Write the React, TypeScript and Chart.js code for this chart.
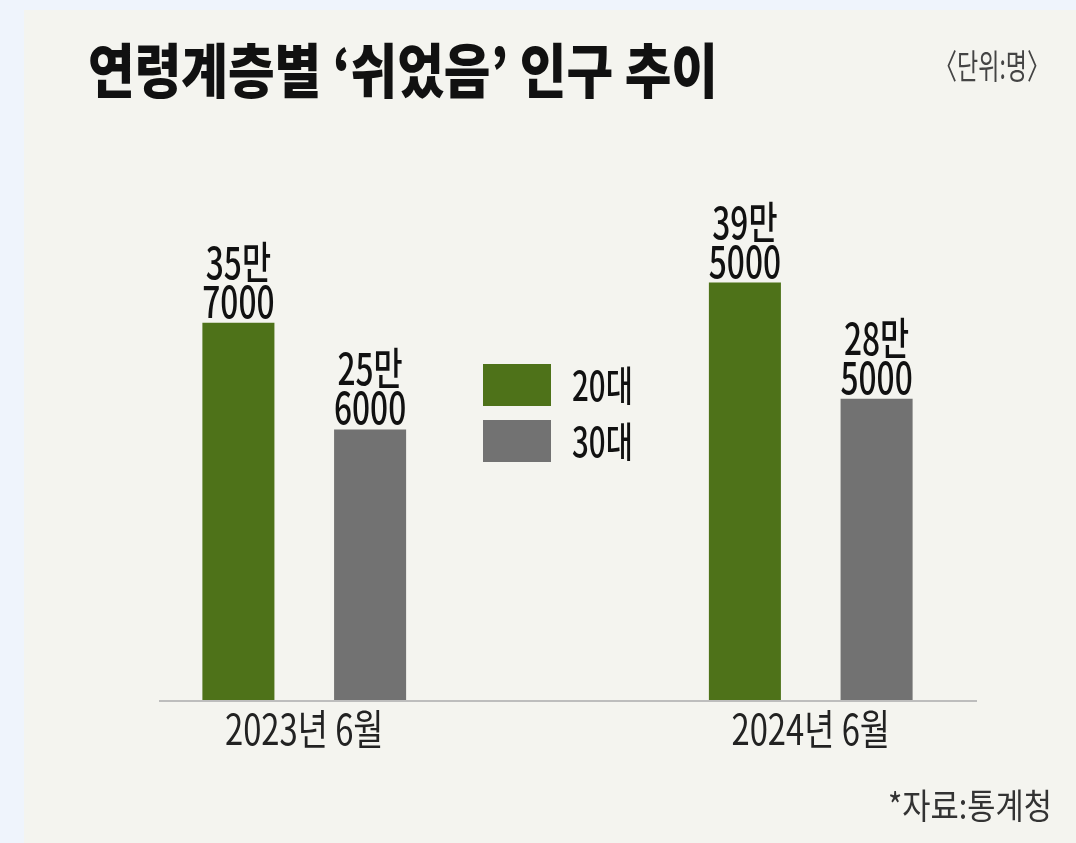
import React, { useEffect, useRef } from "react";
import { Chart, registerables } from "chart.js";

Chart.register(...registerables);

const titleText = "연령계층별 ‘쉬었음’ 인구 추이";
const unitText = "〈단위:명〉";
const sourceText = "*자료:통계청";
const categories = ["2023년 6월", "2024년 6월"];
const seriesLabels = ["20대", "30대"];
const values20s = [357000, 395000];
const values30s = [256000, 285000];
const seriesColors = ["#4e7219", "#727272"];

const FONT = "'Noto Sans CJK KR', 'Noto Sans', sans-serif";

function drawText(
  ctx: CanvasRenderingContext2D,
  text: string,
  x: number,
  y: number,
  opts: { size: number; weight?: string; color: string; sx?: number; fitWidth?: number; align?: CanvasTextAlign; baseline?: CanvasTextBaseline }
) {
  ctx.save();
  ctx.font = `${opts.weight || "normal"} ${opts.size}px ${FONT}`;
  ctx.fillStyle = opts.color;
  ctx.textAlign = opts.align || "left";
  ctx.textBaseline = opts.baseline || "alphabetic";
  let sx = opts.sx || 1;
  if (opts.fitWidth) {
    const w = ctx.measureText(text).width;
    sx = opts.fitWidth / w;
  }
  ctx.translate(x, y);
  ctx.scale(sx, 1);
  ctx.fillText(text, 0, 0);
  ctx.restore();
}

function splitMan(v: number): [string, string] {
  const man = Math.floor(v / 10000);
  const rest = v % 10000;
  return [`${man}만`, `${rest}`];
}

const decorPlugin = {
  id: "decor",
  beforeDatasetsDraw(chart: any) {
    const ctx = chart.ctx as CanvasRenderingContext2D;
    const y0 = chart.scales.y.getPixelForValue(0);
    ctx.save();
    ctx.strokeStyle = "#bdbdbd";
    ctx.lineWidth = 2;
    ctx.beginPath();
    ctx.moveTo(159, y0 + 1);
    ctx.lineTo(977, y0 + 1);
    ctx.stroke();
    ctx.restore();
  },
  afterDatasetsDraw(chart: any) {
    const ctx = chart.ctx as CanvasRenderingContext2D;
    // title, unit, source
    drawText(ctx, titleText, 88, 71, { size: 59, weight: "900", color: "#111", fitWidth: 630, baseline: "middle" });
    drawText(ctx, unitText, 1050, 66, { size: 34, color: "#444", fitWidth: 116, align: "right", baseline: "middle" });
    drawText(ctx, sourceText, 1052, 806, { size: 35, color: "#333", fitWidth: 164, align: "right", baseline: "middle" });

    // value labels
    chart.data.datasets.forEach((ds: any, di: number) => {
      const meta = chart.getDatasetMeta(di);
      meta.data.forEach((bar: any, i: number) => {
        const [l1, l2] = splitMan(ds.data[i]);
        drawText(ctx, l1, bar.x, bar.y - 44, { size: 44, weight: "500", color: "#111", sx: 0.72, align: "center" });
        drawText(ctx, l2, bar.x, bar.y - 5, { size: 44, weight: "500", color: "#111", sx: 0.72, align: "center" });
      });
    });

    // category labels
    const xs = chart.scales.x;
    const y0 = chart.scales.y.getPixelForValue(0);
    chart.data.labels.forEach((lab: string, i: number) => {
      drawText(ctx, lab, xs.getPixelForValue(i), y0 + 45, { size: 42, color: "#222", sx: 0.78, align: "center" });
    });

    // legend
    chart.data.datasets.forEach((ds: any, di: number) => {
      const top = 364 + di * 56;
      ctx.save();
      ctx.fillStyle = ds.backgroundColor;
      ctx.fillRect(483, top, 68, 42);
      ctx.restore();
      drawText(ctx, ds.label, 572, top + 21, { size: 41, weight: "500", color: "#111", sx: 0.72, baseline: "middle" });
    });
  },
};

export default function App() {
  const ref = useRef<HTMLCanvasElement | null>(null);
  useEffect(() => {
    if (!ref.current) return;
    const chart = new Chart(ref.current, {
      type: "bar",
      data: {
        labels: categories,
        datasets: [
          { label: seriesLabels[0], data: values20s, backgroundColor: seriesColors[0] },
          { label: seriesLabels[1], data: values30s, backgroundColor: seriesColors[1] },
        ],
      },
      options: {
        responsive: false,
        animation: false,
        layout: { padding: { top: 66, left: 51, right: 12, bottom: 143 } },
        datasets: { bar: { categoryPercentage: 0.52, barPercentage: 0.547 } },
        plugins: { legend: { display: false }, tooltip: { enabled: false }, title: { display: false } },
        scales: {
          x: { display: false, offset: true },
          y: { display: false, min: 0, max: 600000 },
        },
      },
      plugins: [decorPlugin],
    });
    return () => chart.destroy();
  }, []);
  return (
    <div style={{ position: "absolute", left: 0, top: 0, width: 1076, height: 843, background: "#eff4fc", overflow: "hidden" }}>
      <div style={{ position: "absolute", left: 24, top: 10, width: 1052, height: 833, background: "#f4f4ef" }} />
      <canvas ref={ref} width={1076} height={843} style={{ position: "absolute", left: 0, top: 0, width: 1076, height: 843 }} />
    </div>
  );
}
